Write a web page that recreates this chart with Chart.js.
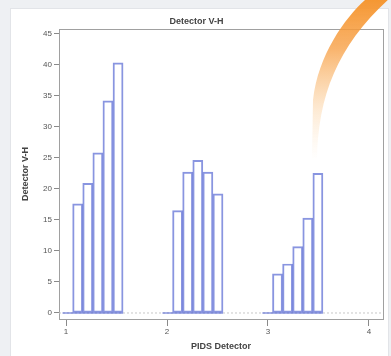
<!DOCTYPE html>
<html>
<head>
<meta charset="utf-8">
<script src="https://cdn.jsdelivr.net/npm/chart.js@4.4.1/dist/chart.umd.min.js"></script>
<style>
	html, body { margin: 0; padding: 0; background: #eef0f3; }
	#wrap { position: relative; width: 391px; height: 356px; overflow: hidden; }
	#panel { position: absolute; left: 10px; top: 8px; width: 379px; height: 360px; background: #fff; border: 1px solid #e2e4e8; box-sizing: border-box; }
	#detectorChart { position: absolute; left: 0; top: 0; }
</style>
</head>
<body>
<div id="wrap">
	<div id="panel"></div>
	<canvas id="detectorChart" width="391" height="356"></canvas>
</div>
<script>
// tick labels
var xTicks = [1, 2, 3, 4];
var yTicks = [0, 5, 10, 15, 20, 25, 30, 35, 40, 45];
var binWidth = 0.1;

// bin centers and counts
var group1Bins = [1.115, 1.215, 1.315, 1.415, 1.515];
var group1Counts = [17.6, 20.9, 25.8, 34.2, 40.3];
var group2Bins = [2.105, 2.205, 2.305, 2.405, 2.505];
var group2Counts = [16.5, 22.7, 24.6, 22.7, 19.2];
var group3Bins = [3.095, 3.195, 3.295, 3.395, 3.495];
var group3Counts = [6.3, 7.9, 10.7, 15.3, 22.5];

var xMin = 0.93, xMax = 4.14;
var yMin = -0.97, yMax = 45.8;

var barColor = 'rgba(92,108,212,0.72)';

function toPoints(bins, counts) {
	var pts = [];
	for (var i = 0; i < bins.length; i++) {
		pts.push({ x: bins[i], y: counts[i] });
	}
	return pts;
}

function baseline(bins) {
	return [
		{ x: bins[0] - 1.5 * binWidth, y: 0 },
		{ x: bins[bins.length - 1] + binWidth / 2, y: 0 }
	];
}

function baselineDataset(bins) {
	return {
		type: 'line',
		data: baseline(bins),
		borderColor: barColor,
		borderWidth: 1.3,
		pointRadius: 0,
		order: 2
	};
}

var allBars = toPoints(group1Bins, group1Counts)
	.concat(toPoints(group2Bins, group2Counts))
	.concat(toPoints(group3Bins, group3Counts));

var plotFrame = {
	id: 'plotFrame',
	beforeDatasetsDraw: function(chart) {
		var a = chart.chartArea, ctx = chart.ctx;
		ctx.save();
		ctx.strokeStyle = '#a0a0a0';
		ctx.lineWidth = 1;
		ctx.strokeRect(Math.round(a.left) + 0.5, Math.round(a.top) + 0.5,
			Math.round(a.right - a.left), Math.round(a.bottom - a.top));
		ctx.restore();
	}
};

// orange swoosh from the page background
var swoosh = {
	id: 'swoosh',
	afterDraw: function(chart) {
		var ctx = chart.ctx;
		ctx.save();
		var g = ctx.createLinearGradient(0, 0, 0, 160);
		g.addColorStop(0, 'rgba(245,146,40,0.95)');
		g.addColorStop(0.3, 'rgba(247,160,70,0.8)');
		g.addColorStop(0.7, 'rgba(250,190,120,0.3)');
		g.addColorStop(1, 'rgba(252,210,160,0)');
		ctx.fillStyle = g;
		ctx.beginPath();
		ctx.moveTo(365, 0);
		ctx.bezierCurveTo(345, 18, 318, 55, 313, 100);
		ctx.lineTo(312, 160);
		ctx.lineTo(317, 160);
		ctx.bezierCurveTo(318, 95, 338, 45, 390, -2);
		ctx.closePath();
		ctx.fill();
		ctx.restore();
	}
};

Chart.defaults.font.family = '"Liberation Sans", Arial, sans-serif';
Chart.defaults.animation = false;

new Chart(document.getElementById('detectorChart').getContext('2d'), {
	type: 'bar',
	data: {
		datasets: [{
			type: 'bar',
			data: allBars,
			backgroundColor: 'rgba(255,255,255,0)',
			borderColor: barColor,
			borderWidth: 1.3,
			borderSkipped: false,
			categoryPercentage: 1,
			barPercentage: 1,
			order: 1
		},
		baselineDataset(group1Bins),
		baselineDataset(group2Bins),
		baselineDataset(group3Bins),
		{
			type: 'line',
			data: [{ x: xMin, y: 0 }, { x: xMax, y: 0 }],
			borderColor: '#c8c8c8',
			borderWidth: 1,
			borderDash: [2, 2],
			pointRadius: 0,
			order: 3
		}]
	},
	options: {
		responsive: false,
		layout: { padding: { left: 10, right: 8, top: 0, bottom: 0 } },
		plugins: {
			legend: { display: false },
			tooltip: { enabled: false },
			title: {
				display: true,
				text: 'Detector V-H',
				color: '#444',
				font: { size: 9, weight: 'bold' },
				padding: { top: 16, bottom: 2 }
			}
		},
		scales: {
			x: {
				type: 'linear',
				min: xMin,
				max: xMax,
				offset: false,
				afterBuildTicks: function(scale) {
					scale.ticks = xTicks.map(function(v) { return { value: v }; });
				},
				afterFit: function(scale) { scale.height = 37; },
				grid: { offset: false, drawOnChartArea: false, drawTicks: true, tickLength: 7, color: '#8a8a8a' },
				border: { display: false },
				ticks: { color: '#555', font: { size: 8 }, padding: 1, maxRotation: 0 },
				title: {
					display: true,
					text: 'PIDS Detector',
					color: '#444',
					font: { size: 9, weight: 'bold' },
					padding: { top: 4, bottom: 4 }
				}
			},
			y: {
				min: yMin,
				max: yMax,
				afterBuildTicks: function(scale) {
					scale.ticks = yTicks.map(function(v) { return { value: v }; });
				},
				afterFit: function(scale) { scale.width = 49; },
				grid: { drawOnChartArea: false, drawTicks: true, tickLength: 5, color: '#8a8a8a' },
				border: { display: false },
				ticks: { color: '#555', font: { size: 8 }, padding: 2 },
				title: {
					display: true,
					text: 'Detector V-H',
					color: '#444',
					font: { size: 9, weight: 'bold' },
					padding: { top: 10, bottom: 0 }
				}
			}
		}
	},
	plugins: [plotFrame, swoosh]
});
</script>
</body>
</html>
